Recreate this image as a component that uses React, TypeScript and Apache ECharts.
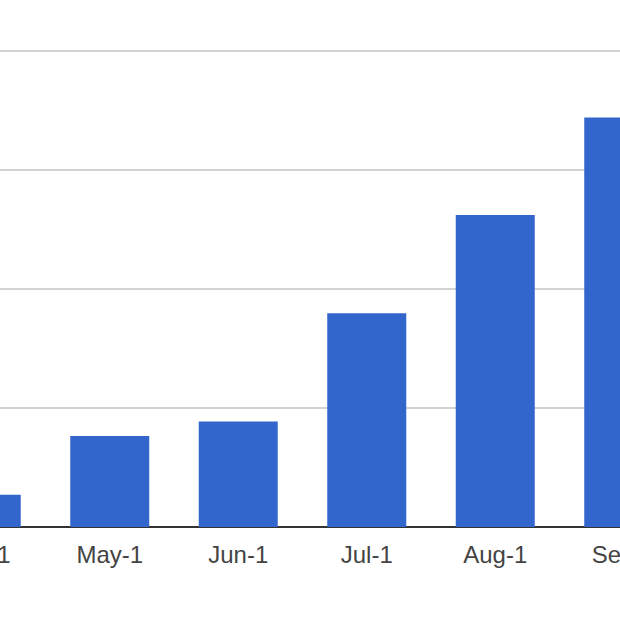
import React, { useEffect, useRef } from "react";
import * as echarts from "echarts";

const categories = ["Apr-1", "May-1", "Jun-1", "Jul-1", "Aug-1", "Sep-1"];
const values = [27, 76.5, 88.5, 179.5, 262, 344];
const yTicks = { min: 0, max: 400, interval: 100 };

export default function App() {
  const ref = useRef<HTMLDivElement>(null);
  useEffect(() => {
    if (!ref.current) return;
    const chart = echarts.init(ref.current, undefined, { renderer: "svg" });
    chart.setOption({
      animation: false,
      backgroundColor: "#ffffff",
      grid: { left: 0, right: 0, top: 50.7, bottom: 93, containLabel: false },
      xAxis: {
        type: "category",
        data: categories,
        axisTick: { show: false },
        axisLine: { show: true, lineStyle: { color: "#333333", width: 2 } },
        axisLabel: {
          color: "#444444",
          fontSize: 24,
          fontFamily: "Liberation Sans, Arial, sans-serif",
          margin: 15,
        },
      },
      yAxis: {
        type: "value",
        min: yTicks.min,
        max: yTicks.max,
        interval: yTicks.interval,
        axisLabel: { show: false },
        axisLine: { show: false },
        axisTick: { show: false },
        splitLine: { lineStyle: { color: "#d2d2d2", width: 2 } },
      },
      series: [
        {
          type: "bar",
          data: values,
          barWidth: 79,
          itemStyle: { color: "#3366CC" },
        },
      ],
    });
    return () => chart.dispose();
  }, []);
  return (
    <div
      style={{
        position: "fixed",
        left: 0,
        top: 0,
        width: 620,
        height: 620,
        overflow: "hidden",
        background: "#fff",
      }}
    >
      <div
        ref={ref}
        style={{ position: "absolute", left: -83, top: 0, width: 771, height: 620 }}
      />
    </div>
  );
}
